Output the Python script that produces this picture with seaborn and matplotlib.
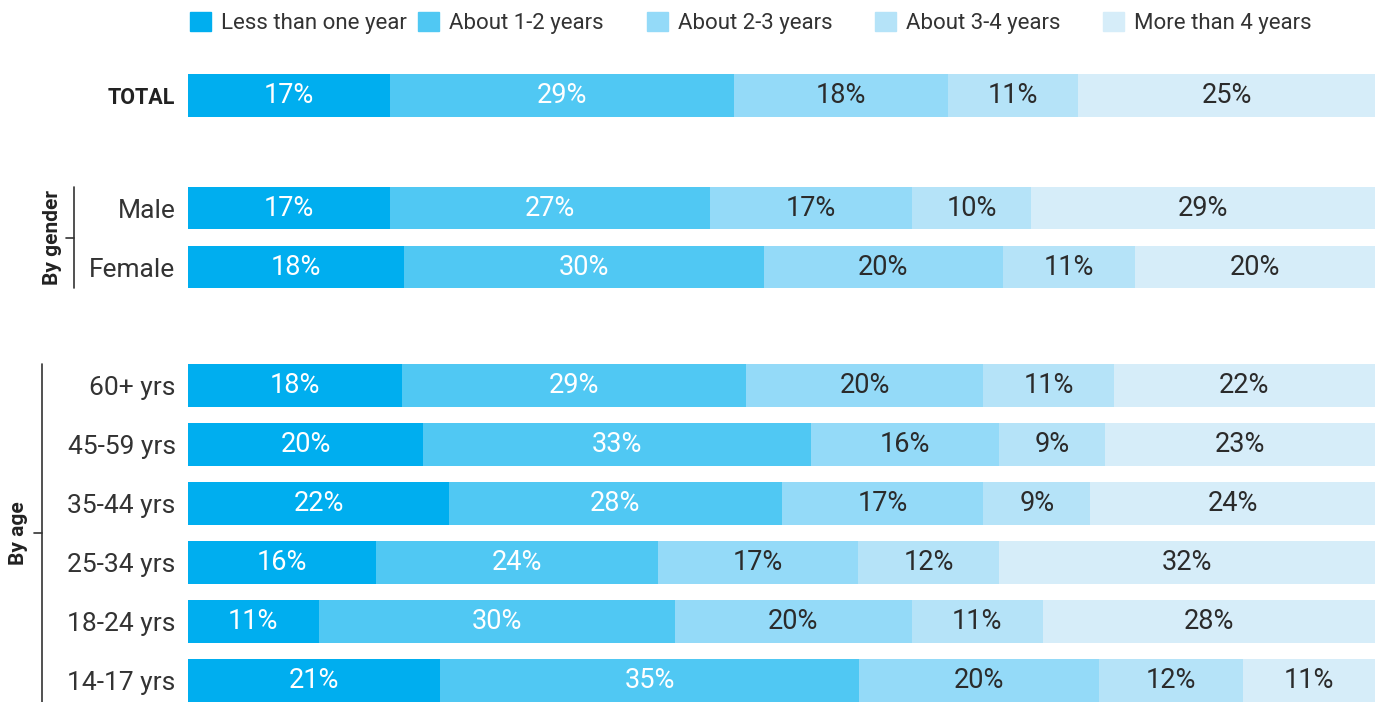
import numpy as np
import matplotlib.pyplot as plt
import seaborn as sns
from matplotlib.patches import Patch
from matplotlib.transforms import blended_transform_factory

rows = ["TOTAL", "Male", "Female", "60+ yrs", "45-59 yrs", "35-44 yrs",
        "25-34 yrs", "18-24 yrs", "14-17 yrs"]
series = ["Less than one year", "About 1-2 years", "About 2-3 years",
          "About 3-4 years", "More than 4 years"]
less_than_one = [17, 17, 18, 18, 20, 22, 16, 11, 21]
about_1_2 = [29, 27, 30, 29, 33, 28, 24, 30, 35]
about_2_3 = [18, 17, 20, 20, 16, 17, 17, 20, 20]
about_3_4 = [11, 10, 11, 11, 9, 9, 12, 11, 12]
more_than_4 = [25, 29, 20, 22, 23, 24, 32, 28, 11]

colors = ["#00AEEF", "#50C8F3", "#94DAF8", "#B5E3F8", "#D6EDF9"]
text_colors = ["white", "white", "#2b2b2b", "#2b2b2b", "#2b2b2b"]

sns.set_theme(style="white")
plt.rcParams["font.family"] = ["Roboto", "DejaVu Sans"]

values = np.array([less_than_one, about_1_2, about_2_3, about_3_4, more_than_4], dtype=float)
shares = values / values.sum(axis=0) * 100
ypos = np.array([0, 1.9, 2.9, 4.9, 5.9, 6.9, 7.9, 8.9, 9.9])

fig = plt.figure(figsize=(13.75, 7.02), dpi=100)
ax = fig.add_axes([188 / 1375, 0, 1 - 188 / 1375, 1])

left = np.zeros(len(rows))
for i, name in enumerate(series):
    bars = ax.barh(ypos, shares[i], left=left, height=0.72, color=colors[i],
                   edgecolor="none", label=name)
    ax.bar_label(bars, labels=[f"{int(v)}%" for v in values[i]], label_type="center",
                 color=text_colors[i], fontsize=19.5)
    left += shares[i]

ax.set_xlim(0, 100)
ax.set_ylim(10.26, -1.62)
ax.set_xticks([])
ax.set_yticks(ypos)
ax.set_yticklabels(rows, fontsize=19, color="#333333")
ax.tick_params(axis="y", length=0, pad=9)
tl = ax.get_yticklabels()[0]
tl.set_fontsize(15.5)
tl.set_fontweight("bold")
tl.set_color("#222222")
sns.despine(ax=ax, left=True, bottom=True)

# group brackets
tr = blended_transform_factory(fig.transFigure, ax.transData)
h = 0.36
for x_line, x_text, y0, y1, label in [(74, 52, 1.9 - h, 2.9 + h, "By gender"),
                                      (42, 18, 4.9 - h, 9.9 + h, "By age")]:
    ym = (y0 + y1) / 2
    ax.plot([x_line / 1375] * 2, [y0, y1], color="#333333", lw=1.2,
            transform=tr, clip_on=False)
    ax.plot([(x_line - 8) / 1375, x_line / 1375], [ym, ym], color="#333333", lw=1.2,
            transform=tr, clip_on=False)
    ax.text(x_text / 1375, ym, label, rotation=90, ha="center", va="center",
            fontsize=15, fontweight="bold", color="#222222", transform=tr)

# legend: equal-width slots
for k, (c, s) in enumerate(zip(colors, series)):
    leg = fig.legend(handles=[Patch(color=c, label=s)], loc="center left",
                     bbox_to_anchor=((190 + 228.3 * k) / 1375, 1 - 23 / 702),
                     frameon=False, fontsize=16, handlelength=0.95, handleheight=0.95,
                     handletextpad=0.45, labelcolor="#333333", borderaxespad=0, borderpad=0)

fig.savefig("out.png", dpi=100)
